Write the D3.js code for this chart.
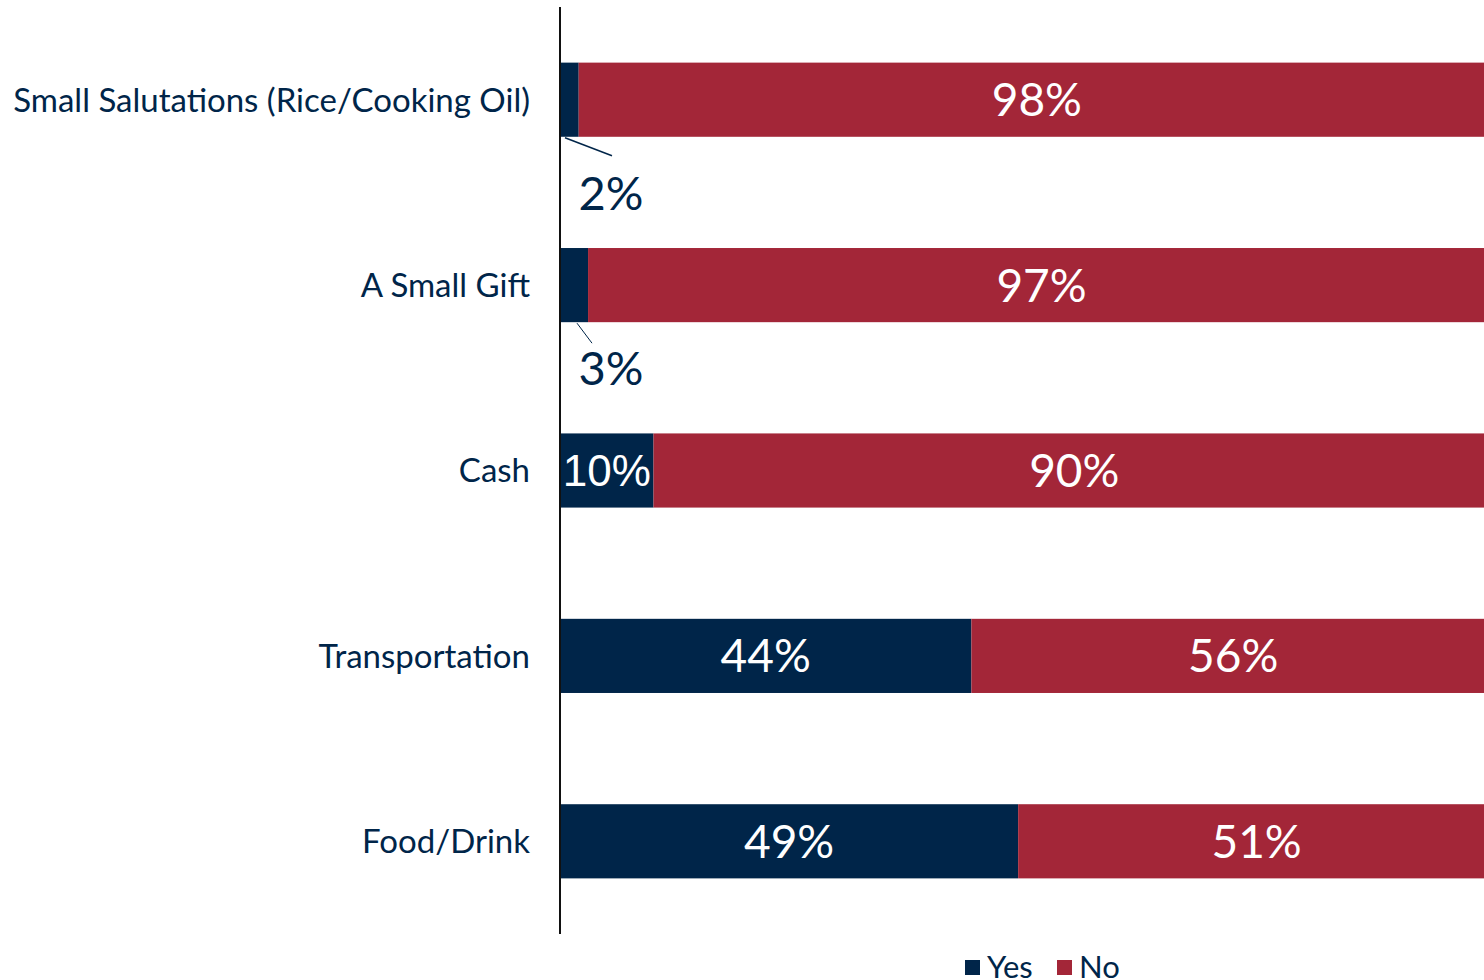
<!DOCTYPE html>
<html>
<head>
<meta charset="utf-8">
<script src="https://cdn.jsdelivr.net/npm/d3@7"></script>
<style>
  html, body { margin: 0; padding: 0; background: #fff; overflow: hidden; }
  svg { display: block; }
</style>
</head>
<body>
<svg id="chart" width="1484" height="980"></svg>
<script>
/* Stacked 100% bar chart: Yes / No by item */

const categories = [
  'Small Salutations (Rice/Cooking Oil)',
  'A Small Gift',
  'Cash',
  'Transportation',
  'Food/Drink'
];
const yesValues = [2, 3, 10, 44, 49];
const noValues = [98, 97, 90, 56, 51];
const seriesNames = ['Yes', 'No'];

const COLORS = { Yes: '#002549', No: '#A32638' };
const FONT = 'Lato, "Open Sans", sans-serif';

const width = 1484, height = 980;
// plot runs a little past the right edge of the page, as in the source
const margin = { left: 560, top: 7, bottom: 46, plotRight: 1495 };

const svg = d3.select('#chart');

const rows = categories.map((c, i) => ({ cat: c, Yes: yesValues[i], No: noValues[i] }));
const stacked = d3.stack().keys(seriesNames)(rows);

const x = d3.scaleLinear().domain([0, 100]).range([margin.left, margin.plotRight]);
const y = d3.scaleBand()
  .domain(categories)
  .range([margin.top, height - margin.bottom])
  .paddingInner(0.6)
  .paddingOuter(0.3);
const bw = y.bandwidth();

// Bars
const layer = svg.append('g')
  .selectAll('g')
  .data(stacked)
  .join('g')
  .attr('fill', d => COLORS[d.key]);

layer.selectAll('rect')
  .data(d => d)
  .join('rect')
  .attr('x', d => x(d[0]))
  .attr('y', d => y(d.data.cat))
  .attr('width', d => x(d[1]) - x(d[0]))
  .attr('height', bw);

// Value labels
stacked.forEach(s => {
  s.forEach(v => {
    const val = v[1] - v[0];
    const cy = y(v.data.cat) + bw / 2;
    if (val >= 5) {
      svg.append('text')
        .attr('x', (x(v[0]) + x(v[1])) / 2)
        .attr('y', cy)
        .attr('dy', '0.36em')
        .attr('text-anchor', 'middle')
        .attr('fill', '#fff')
        .attr('font-family', val === 10 ? '"Liberation Sans", Arial, sans-serif' : FONT)
        .attr('font-size', val === 10 ? 44 : 46)
        .text(val + '%');
    } else {
      // small slices get a leader line and a label below the bar
      const barBottom = y(v.data.cat) + bw;
      const sx = x(v[0]);
      const lead = val === 2
        ? { x1: sx + 5, y1: barBottom + 1, x2: sx + 52, y2: barBottom + 19, w: 1.5, dy: 73 }
        : { x1: sx + 17, y1: barBottom + 1, x2: sx + 32, y2: barBottom + 21, w: 1, dy: 63 };
      svg.append('line')
        .attr('x1', lead.x1).attr('y1', lead.y1)
        .attr('x2', lead.x2).attr('y2', lead.y2)
        .attr('stroke', COLORS.Yes)
        .attr('stroke-width', lead.w);
      svg.append('text')
        .attr('x', sx + 51)
        .attr('y', barBottom + lead.dy)
        .attr('text-anchor', 'middle')
        .attr('fill', COLORS.Yes)
        .attr('font-family', FONT)
        .attr('font-size', 47)
        .text(val + '%');
    }
  });
});

// Category axis
svg.append('line')
  .attr('x1', margin.left).attr('x2', margin.left)
  .attr('y1', margin.top).attr('y2', height - margin.bottom)
  .attr('stroke', '#111')
  .attr('stroke-width', 2);

svg.append('g')
  .selectAll('text')
  .data(categories)
  .join('text')
  .attr('x', margin.left - 30)
  .attr('y', d => y(d) + bw / 2)
  .attr('dy', '0.36em')
  .attr('text-anchor', 'end')
  .attr('fill', COLORS.Yes)
  .attr('font-family', FONT)
  .attr('font-size', 33)
  .text(d => d);

// Legend (cut by the page's lower edge, as in the source)
const legend = svg.append('g').attr('transform', 'translate(965,960)');
const lx = [0, 92];
seriesNames.forEach((k, i) => {
  legend.append('rect')
    .attr('x', lx[i]).attr('y', 0)
    .attr('width', 15).attr('height', 15)
    .attr('fill', COLORS[k]);
  legend.append('text')
    .attr('x', lx[i] + 22).attr('y', 18)
    .attr('fill', COLORS.Yes)
    .attr('font-family', FONT)
    .attr('font-size', 31)
    .text(k);
});
</script>
</body>
</html>
